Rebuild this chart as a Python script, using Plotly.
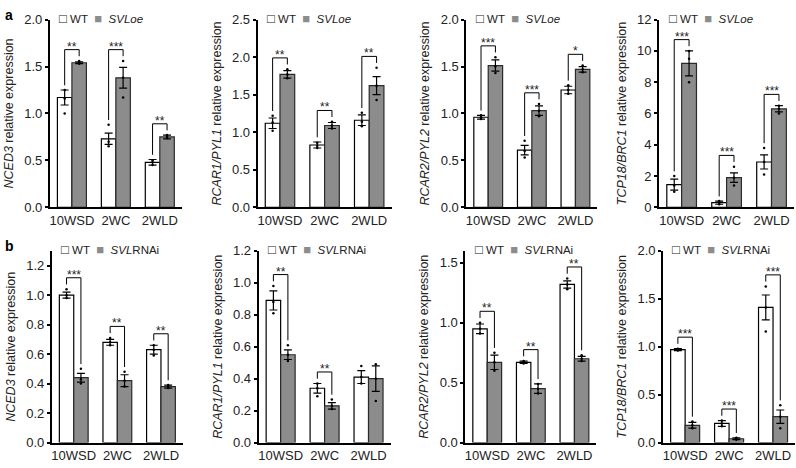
import plotly.graph_objects as go
from plotly.subplots import make_subplots

# x categories shared by every panel
stages = ["10WSD", "2WC", "2WLD"]

# ---- panel a : WT vs SVLoe ----
a_genes = ["NCED3", "RCAR1/PYL1", "RCAR2/PYL2", "TCP18/BRC1"]
a_wt = [[1.17, 0.73, 0.48], [1.12, 0.83, 1.16], [0.96, 0.61, 1.25], [1.45, 0.30, 2.90]]
a_wt_err = [[0.08, 0.06, 0.03], [0.07, 0.04, 0.07], [0.02, 0.05, 0.04], [0.35, 0.10, 0.45]]
a_oe = [[1.54, 1.38, 0.75], [1.77, 1.09, 1.62], [1.51, 1.03, 1.47], [9.2, 1.9, 6.3]]
a_oe_err = [[0.01, 0.11, 0.02], [0.05, 0.04, 0.12], [0.06, 0.05, 0.03], [0.8, 0.3, 0.2]]
a_wt_dots = [
    [[1.25, 1.16, 1.00], [0.88, 0.70, 0.65], [0.50, 0.48, 0.45]],
    [[1.22, 1.13, 1.02], [0.86, 0.82, 0.79], [1.26, 1.14, 1.08]],
    [[0.98, 0.96, 0.94], [0.71, 0.60, 0.53], [1.30, 1.25, 1.21]],
    [[2.0, 1.4, 1.0], [0.40, 0.30, 0.20], [3.8, 2.9, 2.1]],
]
a_oe_dots = [
    [[1.56, 1.54, 1.53], [1.56, 1.38, 1.17], [0.77, 0.75, 0.74]],
    [[1.84, 1.77, 1.72], [1.14, 1.09, 1.05], [1.86, 1.62, 1.43]],
    [[1.60, 1.50, 1.43], [1.10, 1.03, 0.97], [1.51, 1.47, 1.44]],
    [[10.0, 9.5, 8.0], [2.6, 1.9, 1.4], [6.5, 6.3, 6.0]],
]
a_stars = [["**", "***", "**"], ["**", "**", "**"], ["***", "***", "*"], ["***", "***", "***"]]

# ---- panel b : WT vs SVLRNAi ----
b_genes = ["NCED3", "RCAR1/PYL1", "RCAR2/PYL2", "TCP18/BRC1"]
b_wt = [[1.00, 0.68, 0.63], [0.89, 0.34, 0.41], [0.95, 0.67, 1.32], [0.97, 0.20, 1.41]]
b_wt_err = [[0.02, 0.02, 0.03], [0.06, 0.03, 0.04], [0.04, 0.01, 0.03], [0.01, 0.03, 0.13]]
b_ri = [[0.44, 0.42, 0.38], [0.55, 0.23, 0.40], [0.67, 0.45, 0.70], [0.18, 0.04, 0.27]]
b_ri_err = [[0.03, 0.04, 0.01], [0.03, 0.02, 0.08], [0.06, 0.04, 0.02], [0.03, 0.01, 0.07]]
b_wt_dots = [
    [[1.04, 1.00, 0.98], [0.71, 0.68, 0.66], [0.66, 0.63, 0.59]],
    [[0.98, 0.88, 0.81], [0.37, 0.34, 0.29], [0.48, 0.41, 0.37]],
    [[1.00, 0.95, 0.91], [0.68, 0.67, 0.66], [1.37, 1.32, 1.28]],
    [[0.98, 0.97, 0.96], [0.23, 0.20, 0.17], [1.63, 1.41, 1.16]],
]
b_ri_dots = [
    [[0.50, 0.43, 0.40], [0.48, 0.42, 0.38], [0.39, 0.38, 0.37]],
    [[0.61, 0.55, 0.51], [0.27, 0.23, 0.21], [0.49, 0.40, 0.26]],
    [[0.75, 0.67, 0.60], [0.49, 0.45, 0.41], [0.73, 0.70, 0.68]],
    [[0.22, 0.18, 0.15], [0.05, 0.04, 0.03], [0.39, 0.27, 0.15]],
]
b_stars = [["***", "**", "**"], ["**", "**", ""], ["**", "**", "**"], ["***", "***", "***"]]

# axis settings per panel (row a then row b)
y_max = [2.0, 2.5, 2.0, 12, 1.3, 1.2, 1.6, 2.0]
y_dtick = [0.5, 0.5, 0.5, 2, 0.2, 0.2, 0.5, 0.5]
y_fmt = [".1f", ".1f", ".1f", "d", ".1f", ".1f", ".1f", ".1f"]

W, H = 796, 468
# pixel boxes of each plot area (left, right, top, bottom)
boxes = [
    (49, 181, 13, 207), (257, 391, 13, 207), (466, 597, 13, 207), (659, 794, 13, 207),
    (51, 182, 252, 450), (258, 390, 252, 450), (465, 596, 252, 450), (663, 795, 252, 450),
]

FONT = "Arial, Liberation Sans, sans-serif"
BAR_GAP = 0.34
HALF = (1 - BAR_GAP) / 4  # offset of each bar centre from the category

fig = make_subplots(rows=2, cols=4)


def add_panel(idx, gene, mut_name, mut_legend, wt, wt_err, mut, mut_err, wt_dots, mut_dots, stars):
    row, col = (idx // 4) + 1, (idx % 4) + 1
    xs = list(range(len(stages)))
    ymax = y_max[idx]
    fig.add_trace(go.Bar(
        x=xs, y=wt, name="WT", showlegend=False,
        marker=dict(color="white", line=dict(color="black", width=1.2)),
        error_y=dict(type="data", array=wt_err, color="black", thickness=1.2, width=4),
    ), row=row, col=col)
    fig.add_trace(go.Bar(
        x=xs, y=mut, name=mut_name, showlegend=False,
        marker=dict(color="#8c8c8c", line=dict(color="#2a2a2a", width=1.2)),
        error_y=dict(type="data", array=mut_err, color="black", thickness=1.2, width=4),
    ), row=row, col=col)

    # replicate dots
    dx, dy = [], []
    for i in xs:
        for v in wt_dots[i]:
            dx.append(i - HALF)
            dy.append(v)
        for v in mut_dots[i]:
            dx.append(i + HALF)
            dy.append(v)
    fig.add_trace(go.Scatter(x=dx, y=dy, mode="markers", showlegend=False,
                             marker=dict(color="black", size=2.5)), row=row, col=col)

    # significance brackets
    for i in xs:
        if not stars[i]:
            continue
        lt = max(wt[i] + wt_err[i], max(wt_dots[i])) + ymax * 0.025
        rt = max(mut[i] + mut_err[i], max(mut_dots[i])) + ymax * 0.025
        top = max(lt, rt) + ymax * 0.035
        fig.add_trace(go.Scatter(
            x=[i - HALF, i - HALF, i + HALF, i + HALF], y=[lt, top, top, rt],
            mode="lines", showlegend=False, line=dict(color="black", width=1),
        ), row=row, col=col)
        fig.add_annotation(x=i, y=top, text=stars[i], showarrow=False, yanchor="bottom",
                           yshift=-6, font=dict(size=12, color="#222", family=FONT),
                           row=row, col=col)

    # small legend in the top-left corner
    n = "" if idx == 0 else str(idx + 1)
    fig.add_annotation(
        xref=f"x{n} domain", yref=f"y{n} domain", x=0.055, y=1.0, yshift=1,
        xanchor="left", yanchor="middle", showarrow=False,
        text=("<span style='font-size:13px'>□</span>\u00a0WT\u00a0\u00a0"
              "<span style='font-size:13px;color:#8c8c8c'>■</span>\u00a0\u00a0" + mut_legend),
        font=dict(size=11.5, color="#222", family=FONT),
    )

    l, r, t, b = boxes[idx]
    fig.update_layout({
        f"xaxis{n}": dict(
            domain=[l / W, r / W], range=[-0.5, 2.5], tickvals=xs, ticktext=stages,
            showline=True, linewidth=2, linecolor="black", ticks="",
            showgrid=False, zeroline=False,
            tickfont=dict(size=13, color="#222", family=FONT),
        ),
        f"yaxis{n}": dict(
            domain=[1 - b / H, 1 - t / H], range=[0, ymax], dtick=y_dtick[idx],
            tickformat=y_fmt[idx], showline=True, linewidth=2, linecolor="black",
            ticks="outside", ticklen=3, tickwidth=1.5, tickcolor="black",
            showgrid=False, zeroline=False,
            tickfont=dict(size=13, color="#222", family=FONT),
            title=dict(text=f"<i>{gene}</i> relative expression", standoff=8,
                       font=dict(size=12.5, color="#222", family=FONT)),
        ),
    })


for k in range(4):
    add_panel(k, a_genes[k], "SVLoe", "<i>SVLoe</i>", a_wt[k], a_wt_err[k], a_oe[k], a_oe_err[k],
              a_wt_dots[k], a_oe_dots[k], a_stars[k])
for k in range(4):
    add_panel(k + 4, b_genes[k], "SVLRNAi", "<i>SVL</i>RNAi", b_wt[k], b_wt_err[k], b_ri[k], b_ri_err[k],
              b_wt_dots[k], b_ri_dots[k], b_stars[k])

# panel letters
fig.add_annotation(xref="paper", yref="paper", x=0.002, y=1 - 8 / H, text="<b>a</b>",
                   showarrow=False, xanchor="left", yanchor="middle",
                   font=dict(size=14, color="black", family=FONT))
fig.add_annotation(xref="paper", yref="paper", x=0.002, y=1 - 247 / H, text="<b>b</b>",
                   showarrow=False, xanchor="left", yanchor="middle",
                   font=dict(size=14, color="black", family=FONT))

fig.update_layout(
    width=W, height=H, autosize=False,
    margin=dict(l=0, r=0, t=0, b=0),
    barmode="group", bargap=BAR_GAP, bargroupgap=0,
    plot_bgcolor="white", paper_bgcolor="white",
    showlegend=False,
    font=dict(family=FONT, color="#222"),
)

# the page body has a default 8px margin; drop it so the figure fills the window
fig.write_html("out.html", config={"displayModeBar": False},
               post_script="document.body.style.margin='0';")
